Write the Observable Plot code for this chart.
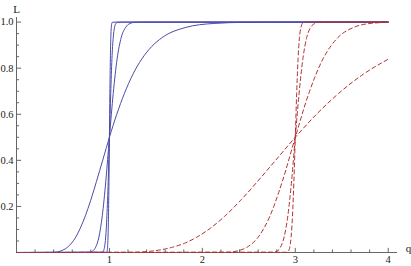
<!DOCTYPE html>
<html><head><meta charset="utf-8">
<script src="https://cdn.jsdelivr.net/npm/d3@7"></script>
<script src="https://cdn.jsdelivr.net/npm/@observablehq/plot@0.6"></script>
<style>body{margin:0;background:#fff} svg text{font-family:'Liberation Serif',serif}</style>
</head><body><div id="chart"></div>
<script>
// Blue solid curves (centre q = 1), from shallowest to steepest
const blue4Q = [0,0.407,0.472,0.549,0.638,0.687,0.741,0.799,0.861,0.928,1,1.078,1.162,1.252,1.35,1.455,1.568,1.822,2.117,2.46,3,4];
const blue4L = [0,0.001,0.006,0.023,0.067,0.106,0.159,0.227,0.309,0.401,0.5,0.599,0.691,0.773,0.841,0.894,0.933,0.977,0.994,0.999,1,1];
const blue3Q = [0,0.787,0.819,0.852,0.887,0.923,0.961,1,1.041,1.083,1.127,1.174,1.221,1.271,1.4,4];
const blue3L = [0,0.001,0.006,0.023,0.067,0.159,0.309,0.5,0.691,0.841,0.933,0.977,0.994,0.999,1,1];
const blue2Q = [0,0.922,0.935,0.947,0.96,0.973,0.987,1,1.014,1.027,1.041,1.055,1.069,1.084,1.15,4];
const blue2L = [0,0.001,0.006,0.023,0.067,0.159,0.309,0.5,0.691,0.841,0.933,0.977,0.994,0.999,1,1];
const blue1Q = [0,0.97,0.975,0.98,0.985,0.99,0.995,1,1.005,1.01,1.015,1.02,1.025,1.03,1.06,4];
const blue1L = [0,0.001,0.006,0.023,0.067,0.159,0.309,0.5,0.691,0.841,0.933,0.977,0.994,0.999,1,1];
// Red dashed curves (centre q = 3)
const red4Q = [0,1.257,1.453,1.68,1.807,1.942,2.088,2.245,2.413,2.595,2.79,3,3.226,3.468,3.729,4];
const red4L = [0,0.001,0.006,0.023,0.04,0.067,0.106,0.159,0.227,0.309,0.401,0.5,0.599,0.691,0.773,0.839];
const red3Q = [0,2.256,2.366,2.481,2.602,2.728,2.861,3,3.146,3.299,3.459,3.628,3.804,4];
const red3L = [0,0.001,0.006,0.023,0.067,0.159,0.309,0.5,0.691,0.841,0.933,0.977,0.994,0.999];
const red2Q = [0,2.766,2.804,2.841,2.88,2.92,2.96,3,3.041,3.082,3.123,3.165,3.21,3.252,3.4,4];
const red2L = [0,0.001,0.006,0.023,0.067,0.159,0.309,0.5,0.691,0.841,0.933,0.977,0.994,0.999,1,1];
const red1Q = [0,2.911,2.926,2.941,2.955,2.97,2.985,3,3.015,3.03,3.045,3.061,3.076,3.091,3.2,4];
const red1L = [0,0.001,0.006,0.023,0.067,0.159,0.309,0.5,0.691,0.841,0.933,0.977,0.994,0.999,1,1];

const xMajor = [1,2,3,4];
const xMinor = [0.2,0.4,0.6,0.8,1.2,1.4,1.6,1.8,2.2,2.4,2.6,2.8,3.2,3.4,3.6,3.8];
const yMajor = [0.2,0.4,0.6,0.8,1.0];
const yMinor = [0.05,0.1,0.15,0.25,0.3,0.35,0.45,0.5,0.55,0.65,0.7,0.75,0.85,0.9,0.95];

function rows(name, Q, L) { return Q.map((q, i) => ({series: name, q, L: L[i]})); }
const blueData = [
  ...rows("b4", blue4Q, blue4L), ...rows("b3", blue3Q, blue3L),
  ...rows("b2", blue2Q, blue2L), ...rows("b1", blue1Q, blue1L)];
const redData = [
  ...rows("r4", red4Q, red4L), ...rows("r3", red3Q, red3L),
  ...rows("r2", red2Q, red2L), ...rows("r1", red1Q, red1L)];

const axisColor = "#666";

const chart = Plot.plot({
  width: 411, height: 266,
  marginLeft: 16, marginRight: 14, marginTop: 17, marginBottom: 14,
  style: {fontSize: "10.5px", color: "#222", background: "#fff"},
  x: {domain: [0, 4.1], axis: null},
  y: {domain: [0, 1.02], axis: null},
  marks: [
    Plot.ruleY([0], {stroke: axisColor, strokeWidth: 1}),
    Plot.ruleX([0], {stroke: axisColor, strokeWidth: 1}),
    Plot.ruleX(xMajor, {x: d => d, y1: 0, y2: 0.018, stroke: axisColor}),
    Plot.ruleX(xMinor, {x: d => d, y1: 0, y2: 0.011, stroke: axisColor}),
    Plot.ruleY(yMajor, {y: d => d, x1: 0, x2: 0.055, stroke: axisColor}),
    Plot.ruleY(yMinor, {y: d => d, x1: 0, x2: 0.033, stroke: axisColor}),
    Plot.axisX({ticks: xMajor, tickSize: 0, tickPadding: 3, tickFormat: d => String(d), label: null}),
    Plot.axisY({ticks: yMajor, tickSize: 0, tickPadding: 3, tickFormat: d => d.toFixed(1), label: null}),
    Plot.line(blueData, {x: "q", y: "L", z: "series", stroke: "#4b4bab", strokeWidth: 1, curve: "monotone-x"}),
    Plot.line(redData, {x: "q", y: "L", z: "series", stroke: "#b03030", strokeWidth: 1, strokeDasharray: "4,3", curve: "monotone-x"}),
    Plot.text(["L"], {frameAnchor: "top-left", dx: 0, dy: -12, text: d => d, textAnchor: "middle", fontSize: 11}),
    Plot.text(["q"], {frameAnchor: "bottom-right", dx: 11, dy: -1, text: d => d, textAnchor: "middle", fontSize: 11})
  ]
});
document.getElementById("chart").appendChild(chart);
</script>
</body></html>
